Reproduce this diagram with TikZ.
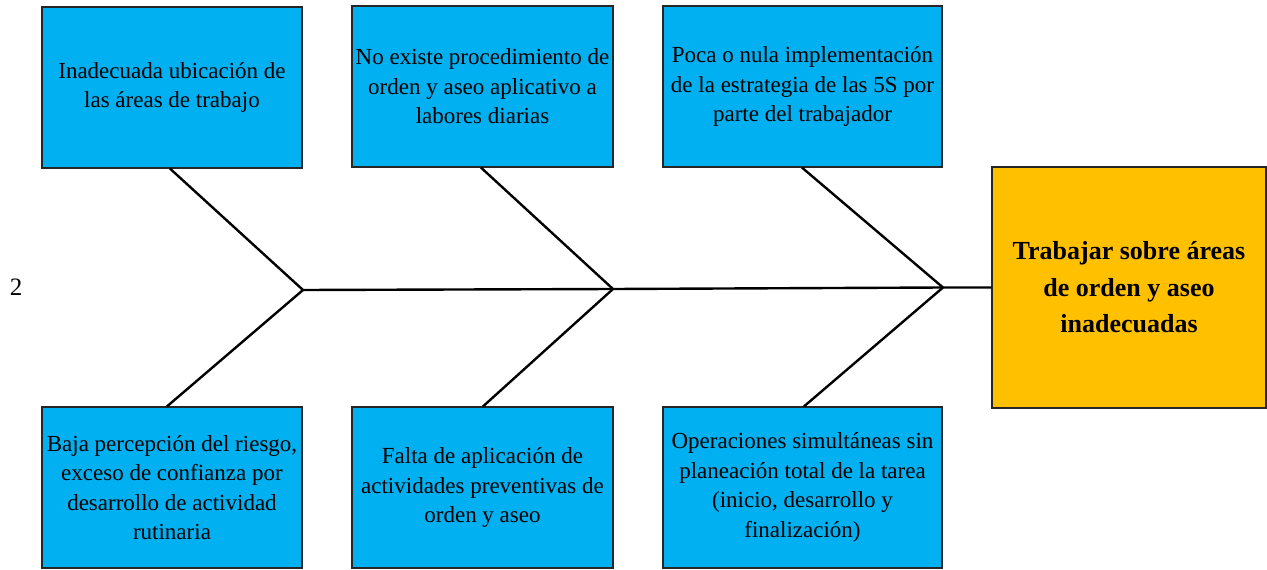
\documentclass[tikz,border=0pt]{standalone}
\usepackage{fontspec}
\setmainfont{Liberation Serif}
\definecolor{causeblue}{HTML}{00B0F0}
\definecolor{effectorange}{HTML}{FFC000}
\definecolor{edgegray}{HTML}{262626}
\begin{document}
\begin{tikzpicture}[x=1pt,y=-1pt,
  causebox/.style={draw=edgegray,line width=1.2pt,fill=causeblue,align=center,
    inner sep=0pt,font=\fontsize{23}{29.5}\selectfont},
  effectbox/.style={draw=edgegray,line width=1.2pt,fill=effectorange,align=center,
    inner sep=0pt,font=\bfseries\fontsize{26}{36.5}\selectfont},
  bone/.style={line width=2.4pt,black}]
\useasboundingbox (0,0) rectangle (1267,570);
% cause boxes
\node[causebox,minimum width=260pt,minimum height=161pt] (c1) at (172,87.5)
  {Inadecuada ubicación de\\las áreas de trabajo};
\node[causebox,minimum width=261pt,minimum height=161pt] (c2) at (482.5,86.5)
  {No existe procedimiento de\\orden y aseo aplicativo a\\labores diarias};
\node[causebox,minimum width=279pt,minimum height=161pt] (c3) at (802.5,86.5)
  {Poca o nula implementación\\de la estrategia de las 5S por\\parte del trabajador};
\node[causebox,minimum width=260pt,minimum height=161pt] (c4) at (172,487.5)
  {Baja percepción del riesgo,\\exceso de confianza por\\desarrollo de actividad\\rutinaria};
\node[causebox,minimum width=261pt,minimum height=161pt] (c5) at (482.5,487.5)
  {Falta de aplicación de\\actividades preventivas de\\orden y aseo};
\node[causebox,minimum width=279pt,minimum height=161pt] (c6) at (802.5,487.5)
  {Operaciones simultáneas sin\\planeación total de la tarea\\(inicio, desarrollo y\\finalización)};
% effect box
\node[effectbox,minimum width=274pt,minimum height=241pt] (res) at (1129,287.5)
  {Trabajar sobre áreas\\de orden y aseo\\inadecuadas};
% label
\node[font=\fontsize{25}{28}\selectfont] (num) at (16,287) {2};
% junctions
\coordinate (j1) at (303,290);
\coordinate (j2) at (613,289);
\coordinate (j3) at (943,287.5);
% spine
\draw[bone] (j1) -- (j2) -- (j3) -- (res.west);
% branches
\draw[bone] ([xshift=-2pt]c1.south) -- (j1);
\draw[bone] ([xshift=-5pt]c4.north) -- (j1);
\draw[bone] ([xshift=-1.5pt]c2.south) -- (j2);
\draw[bone] ([xshift=0.5pt]c5.north) -- (j2);
\draw[bone] ([xshift=-0.5pt]c3.south) -- (j3);
\draw[bone] ([xshift=1.5pt]c6.north) -- (j3);
\end{tikzpicture}
\end{document}
